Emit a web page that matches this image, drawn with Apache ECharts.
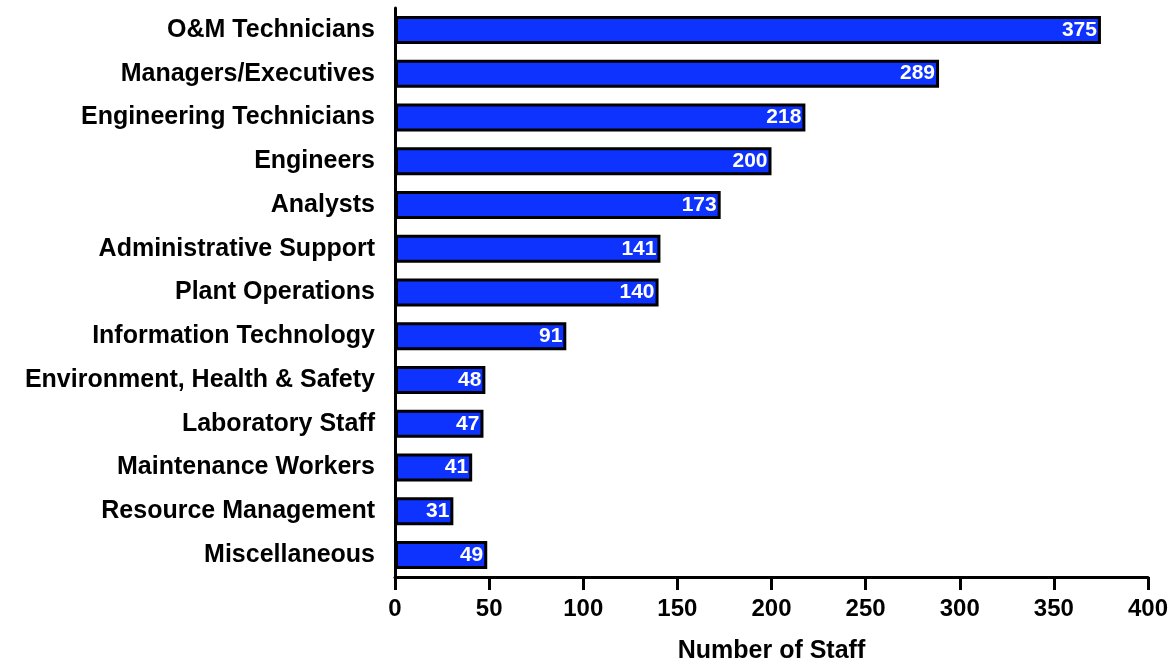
<!DOCTYPE html>
<html>
<head>
<meta charset="utf-8">
<script src="https://cdn.jsdelivr.net/npm/echarts@6/dist/echarts.min.js"></script>
<style>
html,body{margin:0;padding:0;background:#fff;}
#main{width:1171px;height:662px;}
</style>
</head>
<body>
<div id="main"></div>
<script>
// 类别，从上到下
var categories = ['O&M Technicians','Managers/Executives','Engineering Technicians','Engineers','Analysts',
  'Administrative Support','Plant Operations','Information Technology','Environment, Health & Safety',
  'Laboratory Staff','Maintenance Workers','Resource Management','Miscellaneous'];
var staff = [375, 289, 218, 200, 173, 141, 140, 91, 48, 47, 41, 31, 49];
var xTicks = [0, 50, 100, 150, 200, 250, 300, 350, 400];

var font = '"Liberation Sans", Arial, sans-serif';
var myChart = echarts.init(document.getElementById('main'));
myChart.setOption({
  animation: false,
  grid: { left: 395, right: 23, top: 8, bottom: 85, outerBoundsMode: 'none' },
  xAxis: {
    type: 'value',
    min: xTicks[0],
    max: xTicks[xTicks.length - 1],
    interval: 50,
    name: 'Number of Staff',
    nameLocation: 'middle',
    nameGap: 62,
    nameTextStyle: { color: '#000', fontFamily: font, fontWeight: 'bold', fontSize: 25 },
    axisLine: { show: true, lineStyle: { color: '#000', width: 3 } },
    axisTick: { show: true, length: 13, lineStyle: { color: '#000', width: 3 } },
    axisLabel: { color: '#000', fontFamily: font, fontWeight: 'bold', fontSize: 24, margin: 20 },
    splitLine: { show: false }
  },
  yAxis: {
    type: 'category',
    data: categories,
    inverse: true,
    axisLine: { show: true, lineStyle: { color: '#000', width: 3 } },
    axisTick: { show: false },
    axisLabel: { color: '#000', fontFamily: font, fontWeight: 'bold', fontSize: 25, margin: 20 }
  },
  series: [{
    type: 'bar',
    data: staff,
    barCategoryGap: '36%',
    itemStyle: { color: '#0f33ff', borderColor: '#000', borderWidth: 3 },
    label: {
      show: true,
      position: 'insideRight',
      distance: 4,
      color: '#fff',
      fontFamily: font,
      fontWeight: 'bold',
      fontSize: 21
    }
  }]
});
</script>
</body>
</html>
